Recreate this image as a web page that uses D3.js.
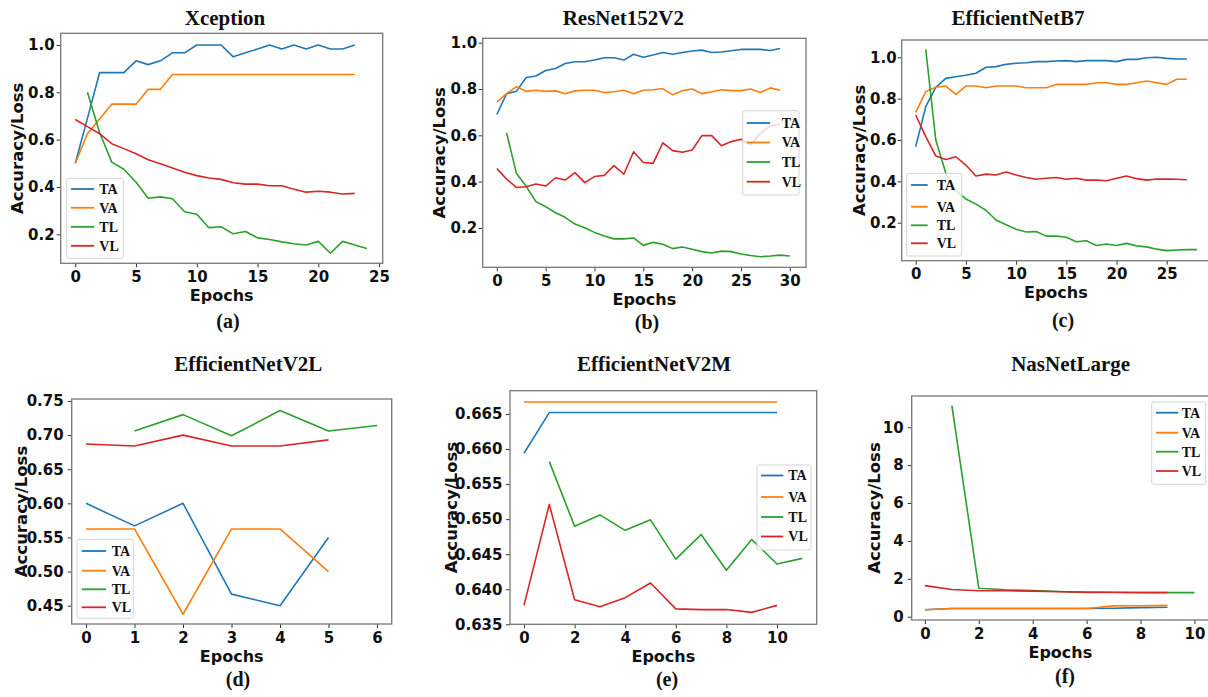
<!DOCTYPE html>
<html>
<head>
<meta charset="utf-8">
<script src="https://cdn.jsdelivr.net/npm/d3@7"></script>
<style>
  body { margin: 0; background: #fff; }
  svg { display: block; }
</style>
</head>
<body>
<script>
// series names and colours (matplotlib defaults)
var seriesNames = ["TA", "VA", "TL", "VL"];
var seriesColors = ["#1f77b4", "#ff7f0e", "#2ca02c", "#d62728"];

// (a) Xception
var xceptionTA = [0.5, 0.69, 0.883, 0.883, 0.883, 0.933, 0.917, 0.933, 0.967, 0.967, 1.0, 1.0, 1.0, 0.95, 0.967, 0.983, 1.0, 0.983, 1.0, 0.983, 1.0, 0.983, 0.983, 1.0];
var xceptionVA = [0.5, 0.625, 0.6875, 0.75, 0.75, 0.75, 0.8125, 0.8125, 0.875, 0.875, 0.875, 0.875, 0.875, 0.875, 0.875, 0.875, 0.875, 0.875, 0.875, 0.875, 0.875, 0.875, 0.875, 0.875];
var xceptionTL = [null, 0.80, 0.63, 0.505, 0.475, 0.42, 0.352, 0.358, 0.35, 0.295, 0.285, 0.228, 0.232, 0.202, 0.212, 0.185, 0.178, 0.168, 0.16, 0.155, 0.17, 0.12, 0.17, 0.155, 0.14];
var xceptionVL = [0.685, 0.655, 0.625, 0.583, 0.562, 0.54, 0.515, 0.498, 0.48, 0.462, 0.448, 0.438, 0.432, 0.418, 0.412, 0.412, 0.405, 0.405, 0.39, 0.378, 0.382, 0.378, 0.37, 0.373];
var xceptionXTicks = [0, 5, 10, 15, 20, 25];
var xceptionYTicks = [0.2, 0.4, 0.6, 0.8, 1.0];

// (b) ResNet152V2
var resnetTA = [0.69, 0.78, 0.79, 0.85, 0.856, 0.88, 0.889, 0.91, 0.918, 0.918, 0.925, 0.935, 0.935, 0.925, 0.95, 0.937, 0.947, 0.958, 0.95, 0.958, 0.964, 0.968, 0.958, 0.96, 0.965, 0.971, 0.971, 0.971, 0.966, 0.975];
var resnetVA = [0.745, 0.78, 0.81, 0.79, 0.795, 0.79, 0.792, 0.78, 0.792, 0.795, 0.795, 0.785, 0.788, 0.795, 0.78, 0.795, 0.797, 0.802, 0.775, 0.793, 0.8, 0.78, 0.788, 0.797, 0.793, 0.793, 0.8, 0.785, 0.805, 0.795];
var resnetTL = [null, 0.61, 0.436, 0.38, 0.314, 0.292, 0.266, 0.246, 0.217, 0.201, 0.181, 0.165, 0.153, 0.153, 0.157, 0.125, 0.138, 0.13, 0.111, 0.118, 0.108, 0.098, 0.092, 0.1, 0.098, 0.088, 0.081, 0.076, 0.079, 0.083, 0.079];
var resnetVL = [0.457, 0.411, 0.375, 0.378, 0.39, 0.381, 0.417, 0.407, 0.439, 0.396, 0.422, 0.427, 0.469, 0.432, 0.529, 0.483, 0.479, 0.568, 0.534, 0.527, 0.537, 0.599, 0.599, 0.555, 0.573, 0.583, 0.56, 0.61, 0.64, 0.65];
var resnetXTicks = [0, 5, 10, 15, 20, 25, 30];
var resnetYTicks = [0.2, 0.4, 0.6, 0.8, 1.0];

// (c) EfficientNetB7
var b7TA = [0.568, 0.761, 0.855, 0.898, 0.906, 0.913, 0.923, 0.952, 0.955, 0.966, 0.971, 0.974, 0.979, 0.979, 0.982, 0.984, 0.979, 0.984, 0.984, 0.984, 0.979, 0.99, 0.99, 0.998, 1.0, 0.995, 0.992, 0.992];
var b7VA = [0.734, 0.834, 0.855, 0.861, 0.821, 0.861, 0.861, 0.853, 0.861, 0.861, 0.861, 0.853, 0.853, 0.853, 0.869, 0.869, 0.869, 0.869, 0.877, 0.877, 0.869, 0.869, 0.877, 0.885, 0.877, 0.869, 0.894, 0.894];
var b7TL = [null, 1.039, 0.6, 0.44, 0.355, 0.315, 0.29, 0.26, 0.213, 0.19, 0.168, 0.155, 0.157, 0.135, 0.135, 0.13, 0.108, 0.113, 0.09, 0.097, 0.09, 0.1, 0.088, 0.083, 0.072, 0.065, 0.068, 0.07, 0.07];
var b7VL = [0.721, 0.616, 0.523, 0.506, 0.519, 0.479, 0.426, 0.435, 0.431, 0.445, 0.431, 0.419, 0.41, 0.415, 0.419, 0.41, 0.415, 0.406, 0.406, 0.403, 0.415, 0.426, 0.413, 0.406, 0.411, 0.411, 0.41, 0.408];
var b7XTicks = [0, 5, 10, 15, 20, 25];
var b7YTicks = [0.2, 0.4, 0.6, 0.8, 1.0];

// (d) EfficientNetV2L
var v2lTA = [0.6, 0.567, 0.6, 0.467, 0.45, 0.55];
var v2lVA = [0.5625, 0.5625, 0.4375, 0.5625, 0.5625, 0.5];
var v2lTL = [null, 0.706, 0.73, 0.699, 0.736, 0.706, 0.714];
var v2lVL = [0.687, 0.684, 0.7, 0.684, 0.684, 0.693];
var v2lXTicks = [0, 1, 2, 3, 4, 5, 6];
var v2lYTicks = [0.45, 0.50, 0.55, 0.60, 0.65, 0.70, 0.75];

// (e) EfficientNetV2M
var v2mTA = [0.6594, 0.6652, 0.6652, 0.6652, 0.6652, 0.6652, 0.6652, 0.6652, 0.6652, 0.6652, 0.6652];
var v2mVA = [0.6667, 0.6667, 0.6667, 0.6667, 0.6667, 0.6667, 0.6667, 0.6667, 0.6667, 0.6667, 0.6667];
var v2mTL = [null, 0.6582, 0.649, 0.6506, 0.6484, 0.6499, 0.6443, 0.6478, 0.6427, 0.6471, 0.6436, 0.6444];
var v2mVL = [0.6377, 0.6521, 0.6385, 0.6375, 0.6388, 0.6409, 0.6372, 0.6371, 0.6371, 0.6367, 0.6377];
var v2mXTicks = [0, 2, 4, 6, 8, 10];
var v2mYTicks = [0.635, 0.640, 0.645, 0.650, 0.655, 0.660, 0.665];

// (f) NasNetLarge
var nasTA = [0.37, 0.43, 0.43, 0.43, 0.43, 0.43, 0.43, 0.45, 0.48, 0.5];
var nasVA = [0.37, 0.43, 0.43, 0.43, 0.43, 0.43, 0.43, 0.57, 0.58, 0.6];
var nasTL = [null, 11.14, 1.5, 1.42, 1.38, 1.33, 1.28, 1.28, 1.27, 1.27, 1.27];
var nasVL = [1.64, 1.44, 1.37, 1.37, 1.35, 1.32, 1.3, 1.29, 1.28, 1.28];
var nasXTicks = [0, 2, 4, 6, 8, 10];
var nasYTicks = [0, 2, 4, 6, 8, 10];

// layout of each sub plot (frame in pixels, axis ranges, legend box)
var panels = [
  { title: "Xception", tag: "(a)", series: [xceptionTA, xceptionVA, xceptionTL, xceptionVL],
    xTicks: xceptionXTicks, yTicks: xceptionYTicks, fmt: ".1f",
    frame: { l: 60.7, r: 382.7, t: 33.3, b: 263.3 }, xDom: [-1.2, 25.3], yDom: [0.0774, 1.0494],
    titleAt: [225, 25], tagAt: [228, 328], ylabOff: 43.7, ypad: 2,
    legend: { x: 66.7, y: 178.3, w: 56.6, h: 80, rows: [189, 207.8, 226.8, 245.8], l0: 71, l1: 94, tx: 99.3 } },
  { title: "ResNet152V2", tag: "(b)", series: [resnetTA, resnetVA, resnetTL, resnetVL],
    xTicks: resnetXTicks, yTicks: resnetYTicks, fmt: ".1f",
    frame: { l: 482.7, r: 806, t: 38.3, b: 267.3 }, xDom: [-1.45, 31.66], yDom: [0.0303, 1.019],
    titleAt: [623.3, 25], tagAt: [647, 329], ylabOff: 43.7, ypad: 1.5,
    legend: { x: 742.7, y: 110.7, w: 56.3, h: 84.3, rows: [123, 142.5, 162, 181.7], l0: 746.7, l1: 770, tx: 781.7 } },
  { title: "EfficientNetB7", tag: "(c)", series: [b7TA, b7VA, b7TL, b7VL],
    xTicks: b7XTicks, yTicks: b7YTicks, fmt: ".1f",
    frame: { l: 901.7, r: 1210, t: 40, b: 260.7 }, xDom: [-1.394, 29.31], yDom: [0.0162, 1.0837],
    titleAt: [1018, 25], tagAt: [1063, 327], ylabOff: 42.7, ypad: 1,
    legend: { x: 906.7, y: 173.3, w: 55, h: 82.7, rows: [185, 206.7, 225.3, 243.3], l0: 911, l1: 927.7, tx: 936.7 } },
  { title: "EfficientNetV2L", tag: "(d)", series: [v2lTA, v2lVA, v2lTL, v2lVL],
    xTicks: v2lXTicks, yTicks: v2lYTicks, fmt: ".2f",
    frame: { l: 71.7, r: 391.7, t: 399, b: 624 }, xDom: [-0.295, 6.303], yDom: [0.4232, 0.7529],
    titleAt: [248.3, 370.7], tagAt: [238, 686], ylabOff: 50, ypad: 4,
    legend: { x: 77, y: 539.3, w: 56.3, h: 79, rows: [551, 570.7, 589.3, 607.3], l0: 81.7, l1: 106, tx: 111.7 } },
  { title: "EfficientNetV2M", tag: "(e)", series: [v2mTA, v2mVA, v2mTL, v2mVL],
    xTicks: v2mXTicks, yTicks: v2mYTicks, fmt: ".3f",
    frame: { l: 510, r: 816.7, t: 390.7, b: 624.3 }, xDom: [-0.553, 11.569], yDom: [0.635, 0.66832],
    titleAt: [654, 370.7], tagAt: [667, 686], ylabOff: 59, ypad: 3.5,
    legend: { x: 757, y: 465, w: 54, h: 85, rows: [475.5, 497, 517, 536.5], l0: 761, l1: 783.3, tx: 788.3 } },
  { title: "NasNetLarge", tag: "(f)", series: [nasTA, nasVA, nasTL, nasVL],
    xTicks: nasXTicks, yTicks: nasYTicks, fmt: "d",
    frame: { l: 911.7, r: 1209, t: 396, b: 620 }, xDom: [-0.49, 10.54], yDom: [-0.174, 11.65],
    titleAt: [1070.7, 370.7], tagAt: [1065, 683], ylabOff: 37.7, ypad: 4,
    legend: { x: 1151.7, y: 402, w: 54, h: 82.3, rows: [412.7, 432.7, 451.7, 471], l0: 1156, l1: 1178.3, tx: 1181.7 } }
];

var W = 1208, H = 697;
var svg = d3.select("body").append("svg")
  .attr("width", W)
  .attr("height", H)
  .style("background", "#fff");

var sansBold = "'DejaVu Sans', sans-serif";
var serifBold = "'Liberation Serif', 'Times New Roman', serif";

panels.forEach(function (p, pi) {
  var f = p.frame;
  var x = d3.scaleLinear().domain(p.xDom).range([f.l, f.r]);
  var y = d3.scaleLinear().domain(p.yDom).range([f.b, f.t]);
  var g = svg.append("g");

  // clip the lines to the frame
  var clipId = "clip" + pi;
  g.append("clipPath").attr("id", clipId)
    .append("rect")
    .attr("x", f.l).attr("y", f.t)
    .attr("width", f.r - f.l).attr("height", f.b - f.t);

  // lines
  var line = d3.line()
    .defined(function (d) { return d != null; })
    .x(function (d, i) { return x(i); })
    .y(function (d) { return y(d); });

  g.append("g").attr("clip-path", "url(#" + clipId + ")")
    .selectAll("path")
    .data(p.series)
    .enter()
    .append("path")
    .attr("d", line)
    .attr("fill", "none")
    .attr("stroke", function (d, i) { return seriesColors[i]; })
    .attr("stroke-width", 1.6)
    .attr("stroke-linejoin", "round");

  // axes
  var xAxis = d3.axisBottom(x).tickValues(p.xTicks).tickSize(4).tickPadding(4).tickFormat(d3.format("d"));
  var yAxis = d3.axisLeft(y).tickValues(p.yTicks).tickSize(4).tickPadding(p.ypad).tickFormat(d3.format(p.fmt));

  var gx = g.append("g").attr("transform", "translate(0," + f.b + ")").call(xAxis);
  var gy = g.append("g").attr("transform", "translate(" + f.l + ",0)").call(yAxis);
  [gx, gy].forEach(function (a) {
    a.select(".domain").remove();
    a.selectAll(".tick line").attr("stroke", "#333").attr("stroke-width", 1);
    a.selectAll(".tick text")
      .attr("fill", "#111")
      .style("font-family", sansBold)
      .style("font-weight", "bold")
      .style("font-size", "15px");
  });

  // frame
  g.append("rect")
    .attr("x", f.l).attr("y", f.t)
    .attr("width", f.r - f.l).attr("height", f.b - f.t)
    .attr("fill", "none")
    .attr("stroke", "#777")
    .attr("stroke-width", 1.3);

  // legend
  var lg = p.legend;
  var leg = g.append("g");
  leg.append("rect")
    .attr("x", lg.x).attr("y", lg.y)
    .attr("width", lg.w).attr("height", lg.h)
    .attr("rx", 2)
    .attr("fill", "#fff").attr("fill-opacity", 0.8)
    .attr("stroke", "#d4d4d4").attr("stroke-width", 1);
  var items = leg.selectAll("g.item")
    .data(seriesNames)
    .enter()
    .append("g").attr("class", "item");
  items.append("line")
    .attr("x1", lg.l0).attr("x2", lg.l1)
    .attr("y1", function (d, i) { return lg.rows[i]; })
    .attr("y2", function (d, i) { return lg.rows[i]; })
    .attr("stroke", function (d, i) { return seriesColors[i]; })
    .attr("stroke-width", 1.8);
  items.append("text")
    .attr("x", lg.tx)
    .attr("y", function (d, i) { return lg.rows[i]; })
    .attr("dy", "0.35em")
    .style("font-family", serifBold)
    .style("font-weight", "bold")
    .style("font-size", "14px")
    .attr("fill", "#111")
    .text(function (d) { return d; });

  // titles and labels
  g.append("text")
    .attr("x", p.titleAt[0]).attr("y", p.titleAt[1])
    .attr("text-anchor", "middle")
    .style("font-family", serifBold).style("font-weight", "bold").style("font-size", "21px")
    .attr("fill", "#111")
    .text(p.title);

  g.append("text")
    .attr("x", (f.l + f.r) / 2).attr("y", f.b + 37.5)
    .attr("text-anchor", "middle")
    .style("font-family", sansBold).style("font-weight", "bold").style("font-size", "16px")
    .attr("fill", "#111")
    .text("Epochs");

  g.append("text")
    .attr("transform", "translate(" + (f.l - p.ylabOff) + "," + ((f.t + f.b) / 2) + ") rotate(-90)")
    .attr("text-anchor", "middle")
    .attr("dy", "0.35em")
    .style("font-family", sansBold).style("font-weight", "bold").style("font-size", "16.5px")
    .attr("fill", "#111")
    .text("Accuracy/Loss");

  g.append("text")
    .attr("x", p.tagAt[0]).attr("y", p.tagAt[1])
    .attr("text-anchor", "middle")
    .style("font-family", serifBold).style("font-weight", "bold").style("font-size", "20px")
    .attr("fill", "#111")
    .text(p.tag);
});
</script>
</body>
</html>
